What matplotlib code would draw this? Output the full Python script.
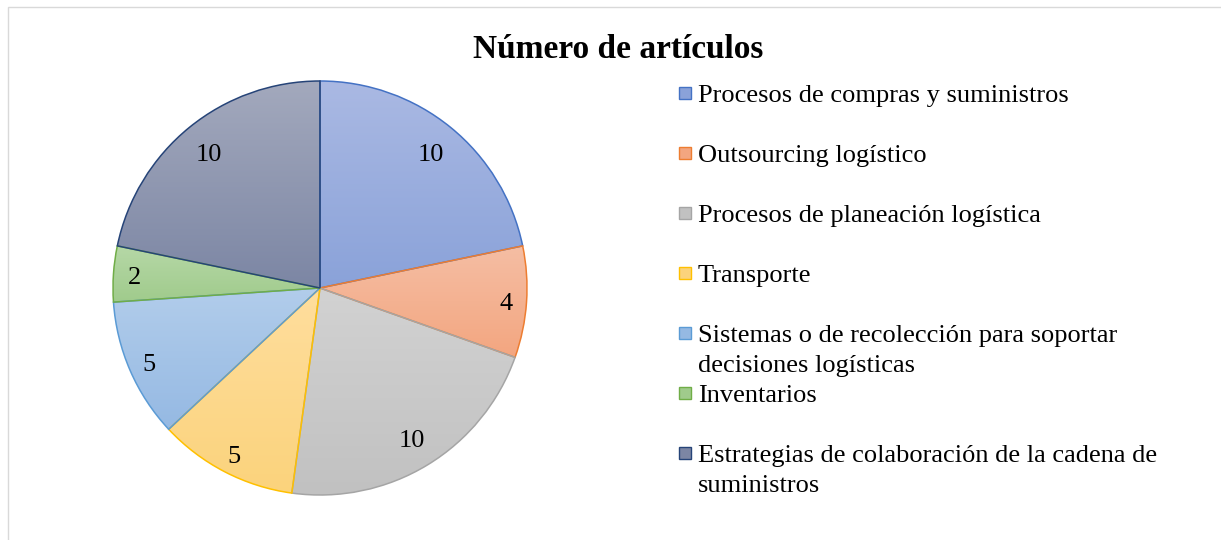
import numpy as np
import matplotlib
matplotlib.use("Agg")
import matplotlib.pyplot as plt
from matplotlib.colors import LinearSegmentedColormap
from matplotlib.patches import Rectangle

# -------------------------------
# Datos
# -------------------------------
categorias = [
    "Procesos de compras y suministros",
    "Outsourcing logístico",
    "Procesos de planeación logística",
    "Transporte",
    "Sistemas o de recolección para soportar\ndecisiones logísticas",
    "Inventarios",
    "Estrategias de colaboración de la cadena de\nsuministros",
]
valores = [10, 4, 10, 5, 5, 2, 10]

# colores (arriba, abajo, borde) estilo Excel
color_sup = ["#AAB9E3", "#F5BEA4", "#D2D2D2", "#FFDE9E", "#B2CDEB", "#B6D8A7", "#A3A9BD"]
color_inf = ["#8AA2D9", "#F3A680", "#C1C1C1", "#FBD37C", "#95B9E3", "#A0CB8C", "#7C86A4"]
color_borde = ["#4472C4", "#ED7D31", "#A5A5A5", "#FFC000", "#5B9BD5", "#70AD47", "#264478"]

W, H = 1221, 540
plt.rcParams["font.family"] = ["Liberation Serif", "DejaVu Serif"]

fig = plt.figure(figsize=(W / 100, H / 100), dpi=100)

# marco del grafico
fig.add_artist(Rectangle((8 / W, -0.1), 1.1, 1 - 7 / H + 0.1,
                         transform=fig.transFigure, fill=False,
                         ec="#D9D9D9", lw=1.0))

fig.text(618 / W, 1 - 49 / H, "Número de artículos", ha="center", va="center",
         fontsize=24, fontweight="bold")

# -------------------------------
# Pastel
# -------------------------------
cx, cy, r = 320, 288, 207
ax = fig.add_axes([(cx - r) / W, 1 - (cy + r) / H, 2 * r / W, 2 * r / H])

wedges, textos = ax.pie(
    valores,
    startangle=90,
    counterclock=False,
    labels=[str(v) for v in valores],
    labeldistance=0.87,
    wedgeprops=dict(facecolor="none", linewidth=1.1, zorder=3),
    textprops=dict(fontsize=19, ha="center", va="center"),
)

grad = np.linspace(0, 1, 256)[:, None]
for w, c1, c2, ce in zip(wedges, color_sup, color_inf, color_borde):
    w.set_edgecolor(ce)
    ext = w.get_path().get_extents()
    cmap = LinearSegmentedColormap.from_list("g", [c1, c2])
    im = ax.imshow(grad, cmap=cmap, aspect="auto", origin="upper",
                   extent=(ext.x0, ext.x1, ext.y0, ext.y1), zorder=1,
                   interpolation="bilinear")
    im.set_clip_path(w)

# etiquetas "extremo interno": las porciones chicas van mas afuera
for w, t, v in zip(wedges, textos, valores):
    ang = np.deg2rad((w.theta1 + w.theta2) / 2)
    d = 0.85 if v >= 10 else 0.9
    t.set_position((d * np.cos(ang), d * np.sin(ang) - 0.015))
    t.set_zorder(5)

ax.set_xlim(-1, 1)
ax.set_ylim(-1, 1)
ax.set_aspect("equal")
ax.axis("off")

# -------------------------------
# Leyenda
# -------------------------------
for i, (lab, c1, c2, ce) in enumerate(zip(categorias, color_sup, color_inf, color_borde)):
    y = 93 + 60 * i
    fig.add_artist(Rectangle((679 / W, 1 - (y + 6) / H), 12 / W, 12 / H,
                             transform=fig.transFigure, fc=c2, ec=ce, lw=1.0))
    for j, linea in enumerate(lab.split("\n")):
        fig.text(698 / W, 1 - (y + 3 + 30 * j) / H, linea, ha="left", va="center",
                 fontsize=19)

fig.savefig("out.png", dpi=100)
